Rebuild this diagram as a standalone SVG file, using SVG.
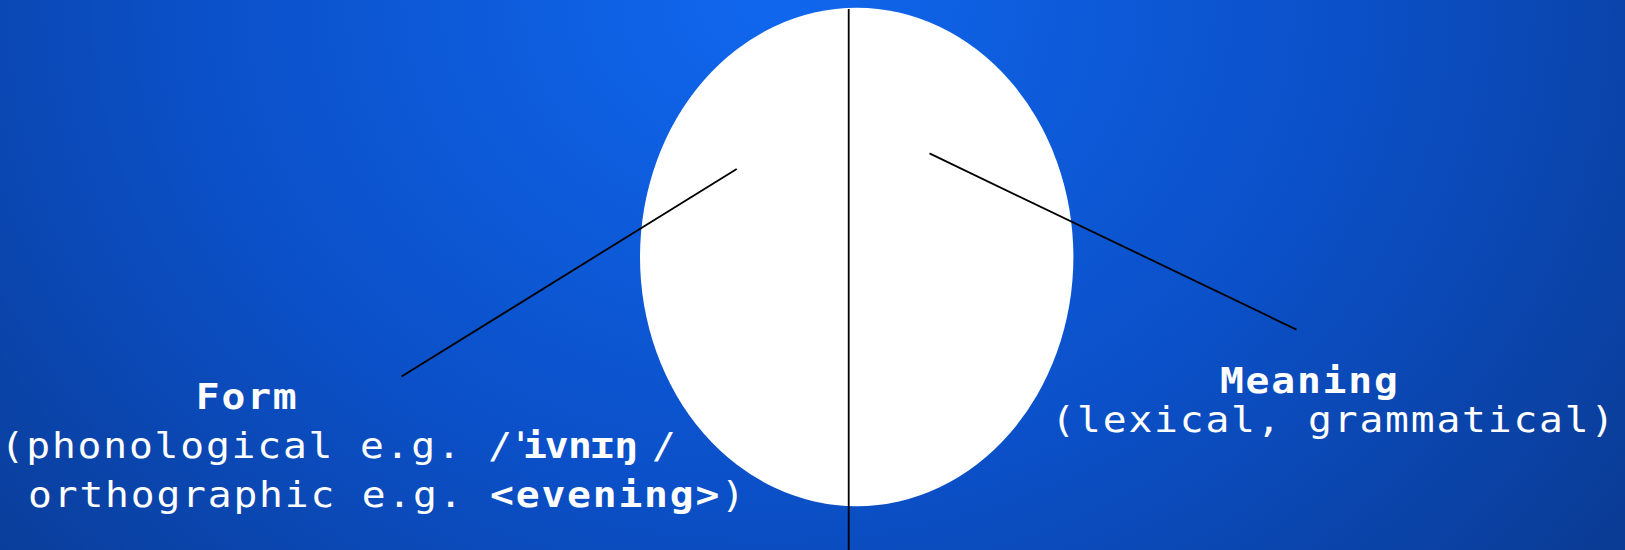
<svg xmlns="http://www.w3.org/2000/svg" width="1625" height="550" viewBox="0 0 1625 550">
  <defs>
    <radialGradient id="bg" gradientUnits="userSpaceOnUse" cx="770" cy="0" r="1050" gradientTransform="translate(770 0) scale(1 0.85) translate(-770 0)">
      <stop offset="0" stop-color="#1067EE"/>
      <stop offset="0.55" stop-color="#0B50C8"/>
      <stop offset="1" stop-color="#0A3C96"/>
    </radialGradient>
    <style>
      .t { font-family: "DejaVu Sans Mono", "Liberation Mono", monospace; font-size: 36px; fill: #ffffff; letter-spacing: 1.67px; }
      .b { font-weight: bold; }
      .ln { stroke: #000000; stroke-width: 1.8; fill: none; }
    </style>
  </defs>
  <rect x="0" y="0" width="1625" height="550" fill="url(#bg)"/>
  <g id="sign">
    <ellipse cx="856.7" cy="257" rx="216.7" ry="249.2" fill="#ffffff"/>
  </g>
  <g id="connectors">
    <line class="ln" x1="848.7" y1="9" x2="848.7" y2="550"/>
    <line class="ln" x1="401.5" y1="376.5" x2="736.7" y2="169"/>
    <line class="ln" x1="929.5" y1="153.4" x2="1296.5" y2="329.6"/>
  </g>
  <g id="form" transform="scale(1.1 1)">
    <text class="t b" x="178" y="409.3">Form</text>
    <text class="t" x="0.5" y="458.5">(phonological e.g. /<tspan class="b" x="462.4 475.4 495.3 516.4 536.9 558.5">ˈivnɪŋ</tspan><tspan x="592.8">/</tspan></text>
    <text class="t" x="25.5" y="507">orthographic e.g. <tspan class="b">&lt;evening&gt;</tspan>)</text>
  </g>
  <g id="meaning" transform="scale(1.1 1)">
    <text class="t b" x="1109" y="393.3">Meaning</text>
    <text class="t" x="955.8" y="432">(lexical, grammatical)</text>
  </g>
</svg>
